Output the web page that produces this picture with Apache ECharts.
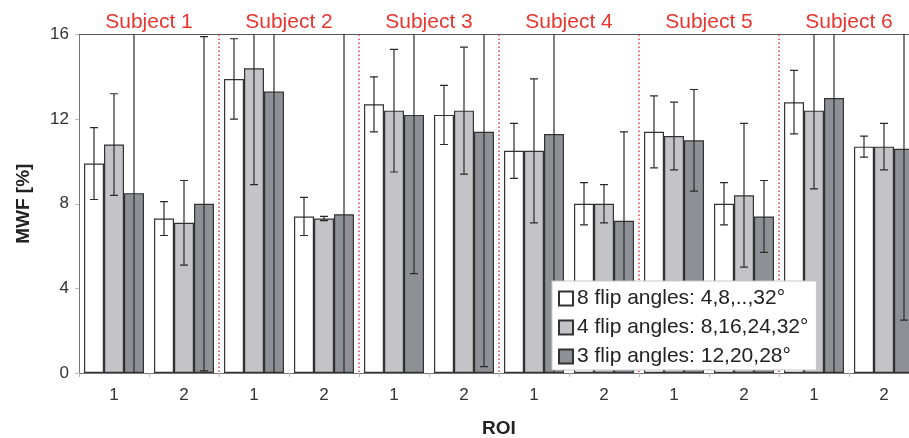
<!DOCTYPE html>
<html>
<head>
<meta charset="utf-8">
<script src="https://cdn.jsdelivr.net/npm/echarts@6/dist/echarts.min.js"></script>
<style>
  html, body { margin: 0; padding: 0; background: #fff; }
  #chart { width: 909px; height: 438px; }
</style>
</head>
<body>
<div id="chart"></div>
<script>
// ROI 1/2 per subject, MWF means with error bar ends (low/high, values past the axis get clipped)
const roiLabels = ['1', '2', '1', '2', '1', '2', '1', '2', '1', '2', '1', '2']
const subjects = ['Subject 1', 'Subject 2', 'Subject 3', 'Subject 4', 'Subject 5', 'Subject 6']
const subjectBounds = [2, 4, 6, 8, 10]
const yTicks = { min: 0, max: 16, interval: 4 }

const names = ['8 flip angles: 4,8,..,32°', '4 flip angles: 8,16,24,32°', '3 flip angles: 12,20,28°']

const mwf8 = [9.9, 7.3, 13.9, 7.4, 12.7, 12.2, 10.5, 8.0, 11.4, 8.0, 12.8, 10.7]
const mwf8Low = [8.2, 6.5, 12.0, 6.5, 11.4, 10.8, 9.2, 7.0, 9.7, 7.0, 11.3, 10.2]
const mwf8High = [11.6, 8.1, 15.8, 8.3, 14.0, 13.6, 11.8, 9.0, 13.1, 9.0, 14.3, 11.2]

const mwf4 = [10.8, 7.1, 14.4, 7.3, 12.4, 12.4, 10.5, 8.0, 11.2, 8.4, 12.4, 10.7]
const mwf4Low = [8.4, 5.1, 8.9, 7.2, 9.5, 9.4, 7.1, 7.1, 9.6, 5.0, 8.7, 9.6]
const mwf4High = [13.2, 9.1, 19.9, 7.4, 15.3, 15.4, 13.9, 8.9, 12.8, 11.8, 16.0, 11.8]

const mwf3 = [8.5, 8.0, 13.3, 7.5, 12.2, 11.4, 11.3, 7.2, 11.0, 7.4, 13.0, 10.6]
const mwf3Low = [-1.0, 0.1, -1.0, -1.0, 4.7, 0.3, -1.0, 3.0, 8.6, 5.7, -1.0, 2.5]
const mwf3High = [18.0, 15.9, 27.0, 16.5, 19.7, 22.5, 23.0, 11.4, 13.4, 9.1, 27.0, 18.7]

const fills = ['#ffffff', '#c4c4c8', '#8e9096']
const edge = '#333333'
const font = 'Liberation Sans, Arial, sans-serif'
const BAR_W = 20

const chart = echarts.init(document.getElementById('chart'))

function barSeries(k, values) {
  return {
    name: names[k],
    type: 'bar',
    data: values,
    barWidth: BAR_W,
    barGap: '0%',
    itemStyle: { color: fills[k], borderColor: edge, borderWidth: 1.2 },
    emphasis: { disabled: true },
    z: 2,
  }
}

function errorSeries(k, low, high) {
  return {
    type: 'custom',
    clip: true,
    z: 3,
    silent: true,
    data: low.map((l, i) => [i, l, high[i]]),
    encode: { x: 0, y: [1, 2] },
    renderItem: (params, api) => {
      const i = api.value(0)
      const off = (k - 1) * BAR_W
      const top = api.coord([i, api.value(2)])
      const bot = api.coord([i, api.value(1)])
      const x = top[0] + off
      const cap = 4
      const style = { stroke: '#2a2a2a', lineWidth: 1.2 }
      return {
        type: 'group',
        children: [
          { type: 'line', shape: { x1: x, y1: top[1], x2: x, y2: bot[1] }, style },
          { type: 'line', shape: { x1: x - cap, y1: top[1], x2: x + cap, y2: top[1] }, style },
          { type: 'line', shape: { x1: x - cap, y1: bot[1], x2: x + cap, y2: bot[1] }, style },
        ],
      }
    },
  }
}

chart.setOption({
  animation: false,
  textStyle: { fontFamily: font },
  // plot runs past the right edge on purpose (last bar is cut off in the source)
  grid: { left: 79, top: 34.5, width: 840, height: 338.5, containLabel: false, outerBoundsMode: 'none' },
  legend: {
    orient: 'vertical',
    left: 552,
    top: 281,
    data: names,
    icon: 'rect',
    itemWidth: 14,
    itemHeight: 14,
    itemGap: 8,
    padding: [7, 8, 3, 6],
    backgroundColor: '#ffffff',
    borderColor: '#c8c8c8',
    borderWidth: 1,
    textStyle: { fontSize: 21, color: '#222', fontFamily: font, padding: [0, 0, 0, -1] },
    selectedMode: false,
  },
  xAxis: [
    {
      type: 'category',
      data: roiLabels,
      name: 'ROI',
      nameLocation: 'middle',
      nameGap: 46,
      nameTextStyle: { fontSize: 19, fontWeight: 'bold', color: '#222' },
      axisLine: { lineStyle: { color: '#777', width: 1 } },
      axisTick: { show: true, length: 4, lineStyle: { color: '#bbb' } },
      axisLabel: { fontSize: 17, color: '#333', margin: 14 },
    },
    {
      type: 'category',
      position: 'top',
      data: subjects,
      axisLine: { lineStyle: { color: '#555', width: 1 } },
      axisTick: { show: false },
      axisLabel: { fontSize: 21, color: '#e8352e', margin: 2 },
    },
  ],
  yAxis: {
    type: 'value',
    min: yTicks.min,
    max: yTicks.max,
    interval: yTicks.interval,
    name: 'MWF [%]',
    nameLocation: 'middle',
    nameGap: 46,
    nameTextStyle: { fontSize: 19, fontWeight: 'bold', color: '#222' },
    axisLine: { show: true, lineStyle: { color: '#777', width: 1 } },
    axisTick: { show: true, length: 4, lineStyle: { color: '#bbb' } },
    axisLabel: { fontSize: 17, color: '#333', margin: 10 },
    splitLine: { show: false },
  },
  series: [
    barSeries(0, mwf8),
    barSeries(1, mwf4),
    barSeries(2, mwf3),
    errorSeries(0, mwf8Low, mwf8High),
    errorSeries(1, mwf4Low, mwf4High),
    errorSeries(2, mwf3Low, mwf3High),
    {
      // red dotted lines between subjects
      type: 'custom',
      silent: true,
      z: 1,
      data: subjectBounds.map((b) => [b, 0]),
      encode: { x: 0, y: 1 },
      renderItem: (params, api) => {
        const half = api.size([1, 0])[0] / 2
        const x = api.coord([api.value(0), 0])[0] - half
        const cs = params.coordSys
        return {
          type: 'line',
          shape: { x1: x, y1: cs.y, x2: x, y2: cs.y + cs.height },
          style: { stroke: '#e84848', lineWidth: 1.5, lineDash: [1.5, 2.5] },
        }
      },
    },
  ],
})
</script>
</body>
</html>
